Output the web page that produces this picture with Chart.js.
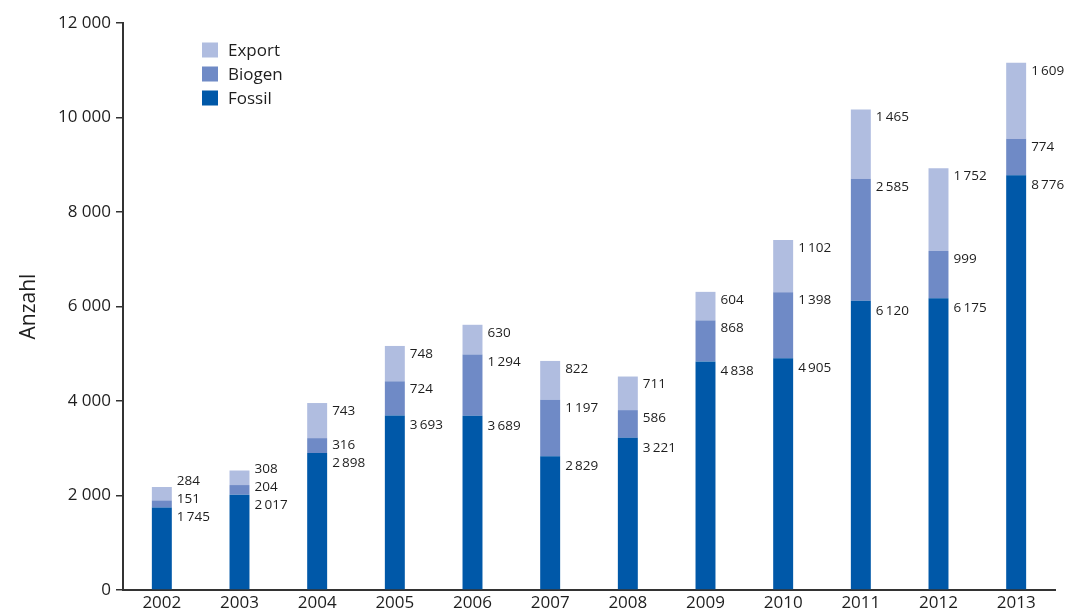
<!DOCTYPE html>
<html>
<head>
<meta charset="utf-8">
<script src="https://cdn.jsdelivr.net/npm/chart.js@4/dist/chart.umd.min.js"></script>
<style>
  html, body { margin: 0; padding: 0; background: #fff; }
  #wrap { width: 1083px; height: 613px; position: relative; }
</style>
</head>
<body>
<div id="wrap"><canvas id="c" width="1083" height="613"></canvas></div>
<script>
const years = ['2002','2003','2004','2005','2006','2007','2008','2009','2010','2011','2012','2013'];
const fossil = [1745, 2017, 2898, 3693, 3689, 2829, 3221, 4838, 4905, 6120, 6175, 8776];
const biogen = [151, 204, 316, 724, 1294, 1197, 586, 868, 1398, 2585, 999, 774];
const exportV = [284, 308, 743, 748, 630, 822, 711, 604, 1102, 1465, 1752, 1609];
const yTicks = [0, 2000, 4000, 6000, 8000, 10000, 12000];

const TEXT = '#1e1e1e';
const FONT = "'Open Sans', 'DejaVu Sans', sans-serif";
const fmt = v => String(v).replace(/\B(?=(\d{3})+(?!\d))/g, '\u2009');
const fmtTick = v => String(v).replace(/\B(?=(\d{3})+(?!\d))/g, ' ');

const valueLabels = {
  id: 'valueLabels',
  afterDatasetsDraw(chart) {
    const ctx = chart.ctx;
    ctx.save();
    ctx.font = '13.5px ' + FONT;
    ctx.fillStyle = TEXT;
    ctx.textAlign = 'left';
    ctx.textBaseline = 'middle';
    const n = chart.data.labels.length;
    for (let i = 0; i < n; i++) {
      let prevY = null;
      chart.data.datasets.forEach((ds, di) => {
        const bar = chart.getDatasetMeta(di).data[i];
        const top = Math.min(bar.y, bar.base);
        let y = top + (di === 0 ? 10 : 8);
        if (prevY !== null) y = Math.min(y, prevY - 18);
        prevY = y;
        const x = bar.x + bar.width / 2 + 5;
        ctx.fillText(fmt(ds.data[i]), x, y);
      });
    }
    ctx.restore();
  }
};

const customLegend = {
  id: 'customLegend',
  afterDraw(chart) {
    const ctx = chart.ctx;
    ctx.save();
    ctx.font = '17px ' + FONT;
    ctx.textBaseline = 'middle';
    ctx.textAlign = 'left';
    const order = [2, 1, 0];
    order.forEach((di, k) => {
      const ds = chart.data.datasets[di];
      const cy = 50 + k * 24;
      ctx.fillStyle = ds.backgroundColor;
      ctx.fillRect(202, cy - 7.5, 16, 15);
      ctx.fillStyle = TEXT;
      ctx.fillText(ds.label, 228, cy + 1);
    });
    ctx.restore();
  }
};

new Chart(document.getElementById('c'), {
  type: 'bar',
  data: {
    labels: years,
    datasets: [
      { label: 'Fossil', data: fossil, backgroundColor: '#0058A8' },
      { label: 'Biogen', data: biogen, backgroundColor: '#6F8AC6' },
      { label: 'Export', data: exportV, backgroundColor: '#B0BDE0' }
    ]
  },
  options: {
    responsive: false,
    animation: false,
    layout: { padding: { top: 23, right: 28, left: 0, bottom: 0 } },
    datasets: { bar: { barPercentage: 0.257, categoryPercentage: 1.0 } },
    plugins: { legend: { display: false }, tooltip: { enabled: false } },
    scales: {
      x: {
        stacked: true,
        grid: { display: false, drawTicks: false },
        border: { display: true, color: '#333', width: 2 },
        ticks: { color: TEXT, font: { family: FONT, size: 17 }, padding: 3, maxRotation: 0 },
        afterFit(s) { s.height = 23; }
      },
      y: {
        stacked: true,
        min: 0, max: 12000,
        afterBuildTicks(s) { s.ticks = yTicks.map(v => ({ value: v })); },
        grid: { display: true, drawOnChartArea: false, drawTicks: true, tickLength: 7, color: '#333', lineWidth: 1.5 },
        border: { display: true, color: '#333', width: 2 },
        ticks: { color: TEXT, font: { family: FONT, size: 17 }, padding: 5, callback: v => fmtTick(v) },
        title: { display: true, text: 'Anzahl', color: TEXT, font: { family: FONT, size: 21 }, padding: { top: 16, bottom: 0 } },
        afterFit(s) { s.width = 123; }
      }
    }
  },
  plugins: [valueLabels, customLegend]
});
</script>
</body>
</html>
